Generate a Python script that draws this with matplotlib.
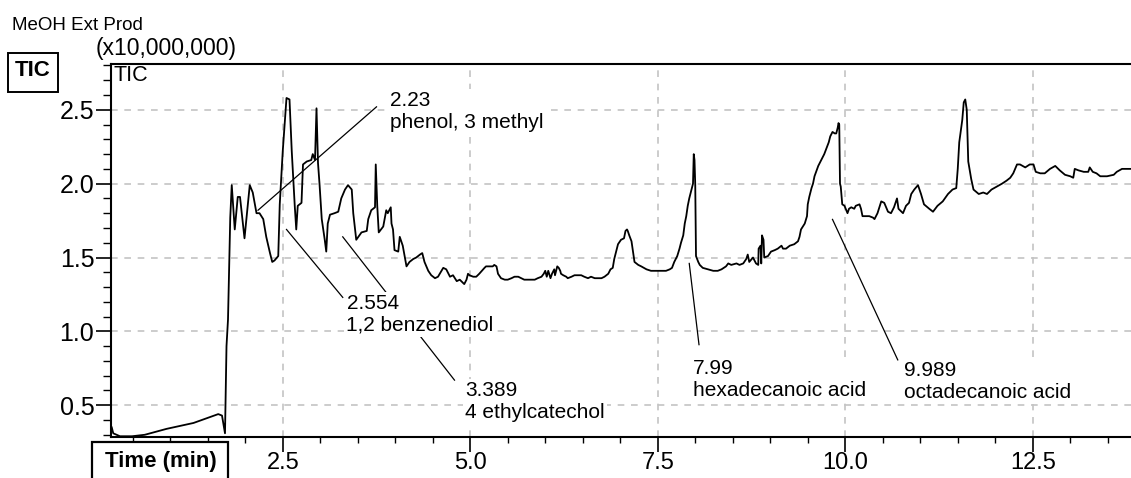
import matplotlib
matplotlib.use('Agg')
import matplotlib.pyplot as plt
from matplotlib.patches import Rectangle
from matplotlib.ticker import MultipleLocator, FormatStrFormatter

plt.rcParams['font.family'] = ['Liberation Sans', 'DejaVu Sans']

# TIC trace, intensity in units of 10,000,000 counts
time_min = [0.22, 0.24, 0.33, 0.49, 0.66, 0.95, 1.31, 1.64, 1.69, 1.73, 1.75, 1.77, 1.80, 1.82,
            1.86, 1.90, 1.93, 1.99, 2.06, 2.10, 2.15, 2.19, 2.24, 2.28, 2.33, 2.36, 2.39, 2.44, 2.46,
            2.50, 2.55, 2.59, 2.62, 2.66, 2.68, 2.70, 2.75, 2.77, 2.82, 2.88, 2.90, 2.93, 2.95, 2.97,
            2.99, 3.02, 3.06, 3.08, 3.10, 3.13, 3.19, 3.24, 3.28, 3.33, 3.37, 3.42, 3.44, 3.48, 3.55,
            3.62, 3.64, 3.68, 3.73, 3.74, 3.76, 3.78, 3.84, 3.88, 3.90, 3.94, 3.95, 3.97, 3.99, 4.04,
            4.06, 4.10, 4.15, 4.19, 4.24, 4.28, 4.33, 4.36, 4.39, 4.44, 4.48, 4.53, 4.57, 4.64, 4.68,
            4.73, 4.77, 4.82, 4.86, 4.90, 4.92, 4.95, 4.97, 4.99, 5.04, 5.08, 5.12, 5.19, 5.21, 5.26,
            5.30, 5.32, 5.35, 5.37, 5.41, 5.46, 5.50, 5.55, 5.59, 5.64, 5.68, 5.72, 5.77, 5.81, 5.86,
            5.90, 5.95, 5.98, 6.00, 6.02, 6.04, 6.07, 6.09, 6.12, 6.13, 6.16, 6.18, 6.20, 6.21, 6.24,
            6.28, 6.30, 6.35, 6.39, 6.44, 6.48, 6.52, 6.57, 6.61, 6.66, 6.70, 6.75, 6.79, 6.84, 6.87,
            6.90, 6.92, 6.95, 6.97, 7.01, 7.05, 7.07, 7.09, 7.10, 7.12, 7.15, 7.17, 7.19, 7.24, 7.28,
            7.35, 7.41, 7.50, 7.57, 7.61, 7.66, 7.69, 7.72, 7.76, 7.79, 7.81, 7.84, 7.86, 7.88, 7.90,
            7.92, 7.95, 7.97, 7.98, 7.99, 8.00, 8.01, 8.04, 8.06, 8.10, 8.17, 8.24, 8.30, 8.35, 8.41,
            8.44, 8.48, 8.55, 8.59, 8.64, 8.68, 8.70, 8.72, 8.77, 8.81, 8.84, 8.845, 8.87, 8.88, 8.89,
            8.91, 8.92, 8.97, 9.01, 9.06, 9.10, 9.15, 9.17, 9.21, 9.26, 9.32, 9.37, 9.39, 9.41, 9.46,
            9.49, 9.50, 9.52, 9.55, 9.57, 9.59, 9.64, 9.68, 9.72, 9.75, 9.78, 9.80, 9.83, 9.86, 9.88,
            9.90, 9.91, 9.92, 9.93, 9.94, 9.96, 9.99, 10.03, 10.05, 10.08, 10.12, 10.14, 10.19, 10.21,
            10.23, 10.28, 10.32, 10.37, 10.39, 10.43, 10.48, 10.52, 10.57, 10.61, 10.65, 10.69, 10.71,
            10.77, 10.81, 10.85, 10.88, 10.92, 10.97, 11.01, 11.05, 11.12, 11.17, 11.23, 11.30, 11.37,
            11.43, 11.48, 11.50, 11.52, 11.56, 11.58, 11.60, 11.62, 11.64, 11.68, 11.71, 11.78, 11.84,
            11.89, 11.95, 12.02, 12.09, 12.15, 12.20, 12.24, 12.29, 12.33, 12.40, 12.46, 12.51, 12.54,
            12.60, 12.66, 12.73, 12.80, 12.86, 12.93, 13.00, 13.04, 13.06, 13.11, 13.18, 13.24, 13.26,
            13.30, 13.35, 13.40, 13.49, 13.58, 13.62, 13.69, 13.75, 13.81]
tic = [0.35, 0.31, 0.29, 0.29, 0.30, 0.34, 0.38, 0.44, 0.43, 0.31, 0.90, 1.08, 1.77, 1.99,
       1.69, 1.91, 1.91, 1.63, 1.99, 1.94, 1.80, 1.80, 1.76, 1.64, 1.53, 1.47, 1.48, 1.51, 1.86,
       2.22, 2.58, 2.57, 2.22, 1.85, 1.69, 1.85, 1.87, 2.13, 2.15, 2.16, 2.20, 2.16, 2.51, 2.14,
       2.00, 1.76, 1.62, 1.54, 1.73, 1.79, 1.80, 1.81, 1.90, 1.96, 1.99, 1.96, 1.80, 1.62, 1.67,
       1.68, 1.76, 1.82, 1.84, 2.13, 1.85, 1.67, 1.71, 1.82, 1.80, 1.84, 1.73, 1.69, 1.55, 1.54,
       1.64, 1.58, 1.44, 1.47, 1.49, 1.50, 1.52, 1.53, 1.47, 1.41, 1.38, 1.36, 1.37, 1.43, 1.42,
       1.37, 1.38, 1.34, 1.35, 1.33, 1.32, 1.35, 1.39, 1.38, 1.37, 1.37, 1.39, 1.43, 1.44, 1.44,
       1.44, 1.45, 1.44, 1.39, 1.36, 1.35, 1.35, 1.36, 1.37, 1.37, 1.36, 1.35, 1.35, 1.35, 1.35,
       1.36, 1.37, 1.39, 1.41, 1.37, 1.41, 1.36, 1.39, 1.42, 1.38, 1.44, 1.43, 1.41, 1.39, 1.38,
       1.37, 1.36, 1.37, 1.38, 1.38, 1.38, 1.37, 1.36, 1.37, 1.36, 1.36, 1.36, 1.37, 1.39, 1.42,
       1.43, 1.49, 1.55, 1.59, 1.62, 1.63, 1.68, 1.69, 1.68, 1.65, 1.61, 1.54, 1.47, 1.45, 1.44,
       1.42, 1.41, 1.41, 1.41, 1.41, 1.42, 1.43, 1.47, 1.51, 1.56, 1.60, 1.65, 1.73, 1.78, 1.85,
       1.90, 1.96, 2.00, 2.20, 2.16, 1.99, 1.51, 1.47, 1.45, 1.43, 1.42, 1.41, 1.41, 1.42, 1.44,
       1.46, 1.45, 1.46, 1.45, 1.46, 1.49, 1.52, 1.47, 1.50, 1.46, 1.45, 1.56, 1.58, 1.46, 1.65,
       1.62, 1.50, 1.51, 1.54, 1.55, 1.56, 1.58, 1.56, 1.56, 1.58, 1.59, 1.61, 1.64, 1.69, 1.73,
       1.78, 1.86, 1.91, 1.97, 2.00, 2.05, 2.12, 2.16, 2.20, 2.24, 2.28, 2.32, 2.35, 2.34, 2.34,
       2.38, 2.41, 2.40, 2.00, 1.98, 1.86, 1.85, 1.80, 1.83, 1.84, 1.83, 1.85, 1.86, 1.83,
       1.78, 1.78, 1.78, 1.77, 1.76, 1.80, 1.88, 1.87, 1.81, 1.80, 1.84, 1.90, 1.83,
       1.80, 1.85, 1.87, 1.93, 1.96, 1.99, 1.93, 1.86, 1.83, 1.81, 1.85, 1.88, 1.93,
       1.96, 1.97, 2.10, 2.28, 2.43, 2.55, 2.57, 2.50, 2.15, 2.03, 1.96, 1.93, 1.94,
       1.93, 1.96, 1.98, 2.00, 2.02, 2.04, 2.07, 2.13, 2.13, 2.11, 2.13, 2.13, 2.08,
       2.07, 2.07, 2.10, 2.12, 2.09, 2.06, 2.05, 2.04, 2.10, 2.09, 2.08, 2.08, 2.11,
       2.08, 2.07, 2.05, 2.05, 2.06, 2.08, 2.10, 2.10, 2.10]

# peak labels and their leader lines (time, intensity)
peak_labels = ['2.23\nphenol, 3 methyl', '2.554\n1,2 benzenediol', '3.389\n4 ethylcatechol',
               '7.99\nhexadecanoic acid', '9.989\noctadecanoic acid']
label_t = [3.93, 3.35, 4.93, 7.97, 10.79]
label_v = [2.63, 1.254, 0.664, 0.814, 0.80]
leader_t0 = [2.17, 2.55, 3.30, 7.92, 9.83]
leader_v0 = [1.82, 1.69, 1.64, 1.46, 1.758]
leader_t1 = [3.75, 3.30, 4.79, 8.05, 10.70]
leader_v1 = [2.52, 1.23, 0.67, 0.91, 0.807]

W, H = 1131, 478


def fx(px):
    return px / W


def fy(py):
    return 1 - py / H


fig = plt.figure(figsize=(W / 100, H / 100), dpi=100)
ax = fig.add_axes([fx(111), fy(437), 1 - fx(111), (437 - 64) / H])

ax.plot(time_min, tic, color='black', lw=1.3, zorder=3)

for i in range(len(peak_labels)):
    ax.plot([leader_t0[i], leader_t1[i]], [leader_v0[i], leader_v1[i]],
            color='black', lw=0.9, zorder=4)
for i in range(len(peak_labels)):
    ax.text(label_t[i], label_v[i], peak_labels[i], fontsize=15, ha='left', va='top',
            zorder=5, linespacing=1.2,
            bbox=dict(boxstyle='square,pad=0.1', fc='white', ec='none'))

ax.set_xlim(0.21, 13.81)
ax.set_ylim(0.285, 2.81)
ax.xaxis.set_major_locator(MultipleLocator(2.5))
ax.xaxis.set_minor_locator(MultipleLocator(0.5))
ax.yaxis.set_major_locator(MultipleLocator(0.5))
ax.yaxis.set_minor_locator(MultipleLocator(0.1))
ax.xaxis.set_major_formatter(FormatStrFormatter('%.1f'))
ax.yaxis.set_major_formatter(FormatStrFormatter('%.1f'))

ax.grid(True, which='major', color='#c4c4c4', linestyle=(0, (4, 4)), linewidth=1.2, zorder=1)
ax.set_axisbelow(True)

ax.spines['right'].set_visible(False)
for s in ['left', 'top', 'bottom']:
    ax.spines[s].set_linewidth(1.5)

ax.tick_params(axis='y', which='major', direction='out', length=11, width=1.2,
               labelsize=18, pad=1)
ax.tick_params(axis='y', which='minor', direction='out', length=5.5, width=1.0)
ax.tick_params(axis='x', which='major', direction='out', length=10.5, width=1.2,
               labelsize=17, pad=0.5)
ax.tick_params(axis='x', which='minor', direction='out', length=4, width=1.0)

ax.text(0.002, 0.997, 'TIC', transform=ax.transAxes, ha='left', va='top', fontsize=15.5)

fig.text(fx(12), fy(25), 'MeOH Ext Prod', fontsize=13.5, ha='left', va='center')
fig.text(fx(96), fy(49), '(x10,000,000)', fontsize=16.5, ha='left', va='center')

fig.add_artist(Rectangle((fx(8), fy(92)), fx(50), (92 - 53) / H, transform=fig.transFigure,
                         fc='white', ec='black', lw=1.4))
fig.text(fx(33), fy(71), 'TIC', fontsize=16, fontweight='bold', ha='center', va='center')

fig.add_artist(Rectangle((fx(92), fy(490)), fx(136), (490 - 442) / H,
                         transform=fig.transFigure, fc='white', ec='black', lw=1.6,
                         clip_on=False))
fig.text(fx(161), fy(461), 'Time (min)', fontsize=16, fontweight='bold', ha='center',
         va='center')

fig.savefig('out.png', dpi=100)
